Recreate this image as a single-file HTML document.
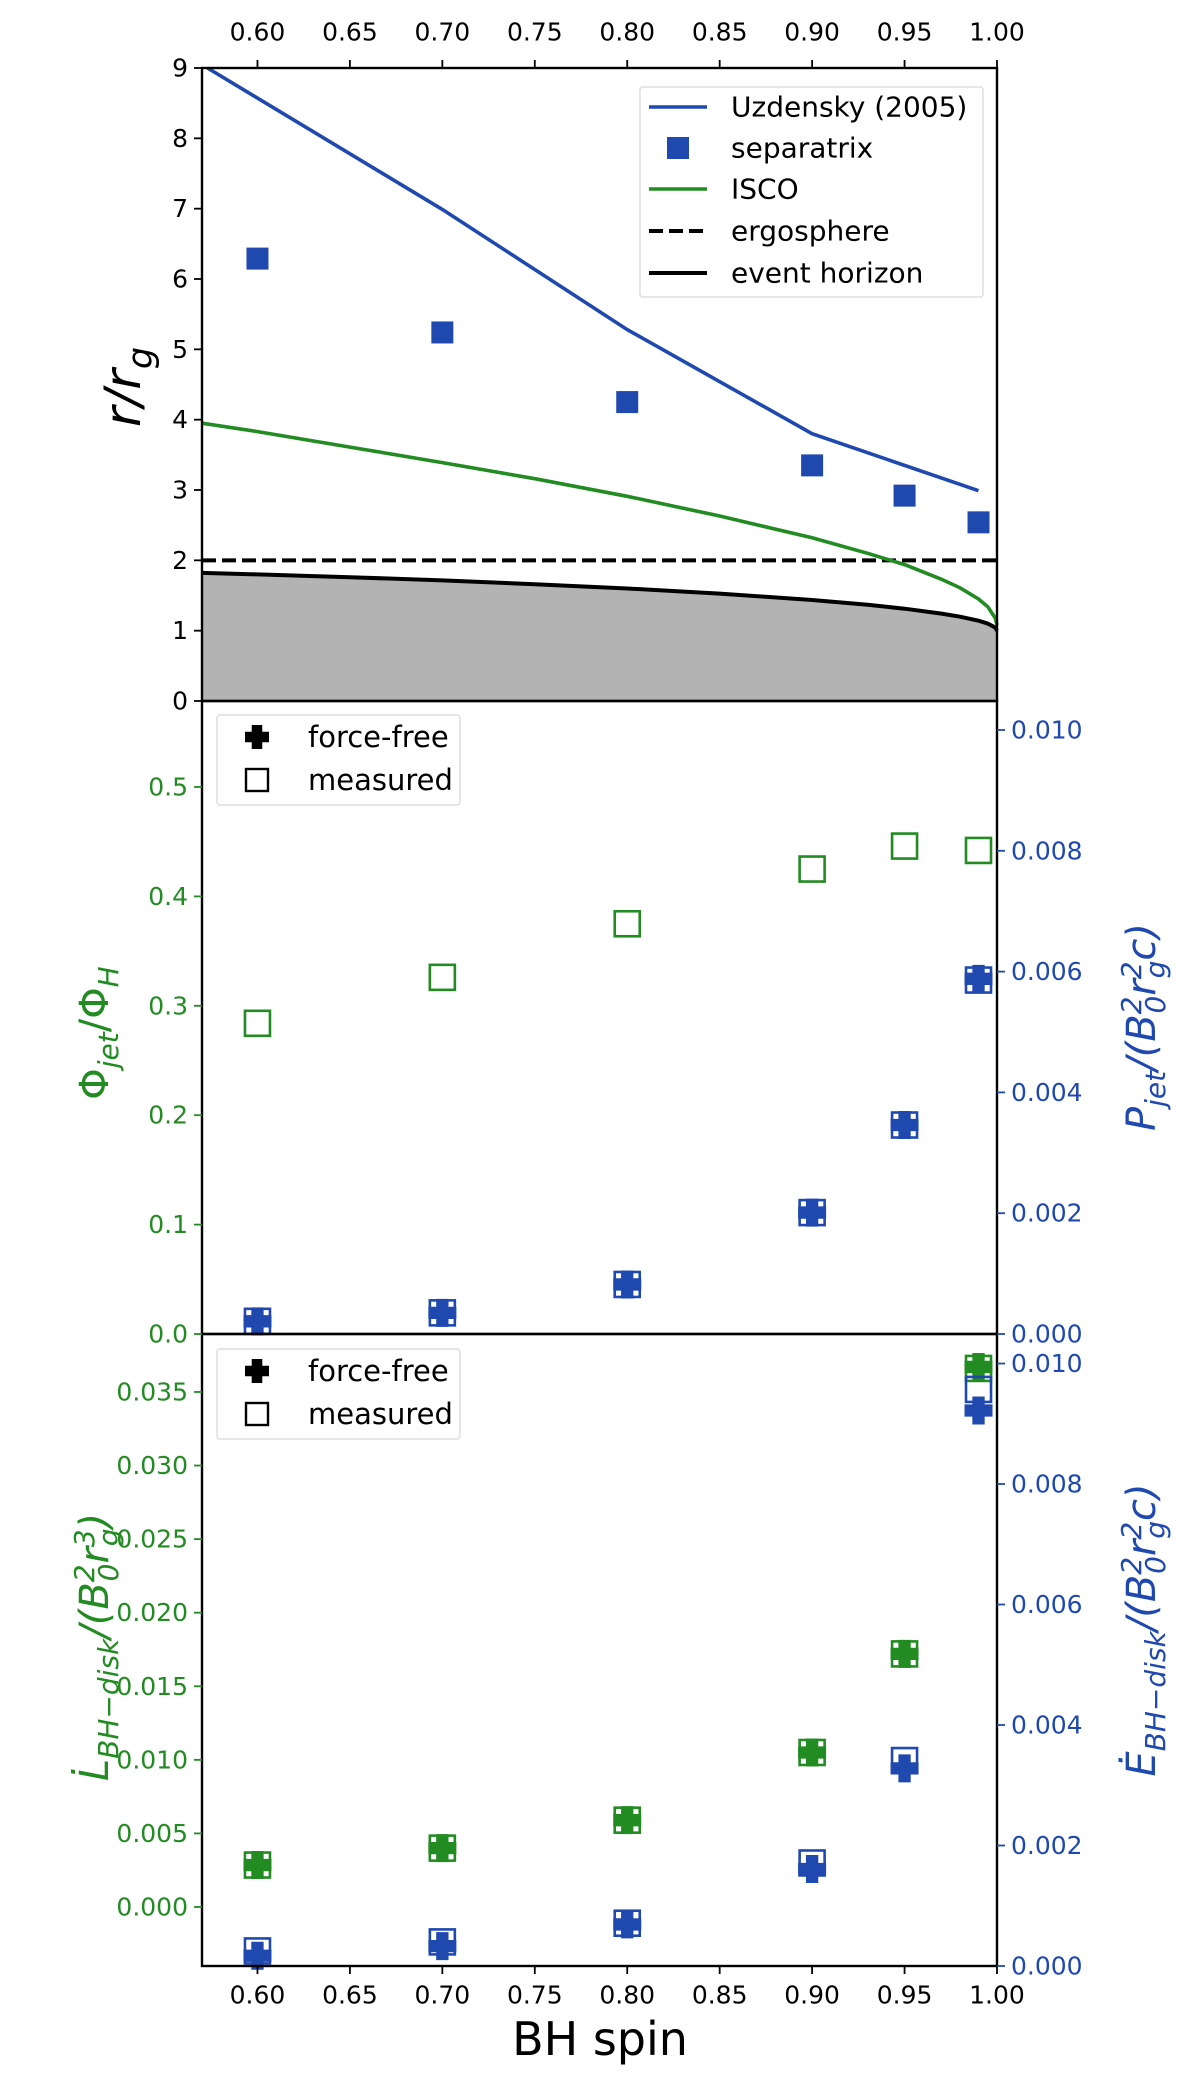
<!DOCTYPE html>
<html><head><meta charset="utf-8"><style>
html,body{margin:0;padding:0;background:#fff;}
svg{display:block;font-family:"DejaVu Sans","Liberation Sans",sans-serif;}
</style></head><body>
<svg id="c" width="1200" height="2090" viewBox="0 0 1200 2090" xmlns="http://www.w3.org/2000/svg"></svg>
<script>
// ---------- data ----------
const spins = [0.6, 0.7, 0.8, 0.9, 0.95, 0.99];
const xTicks = [0.60, 0.65, 0.70, 0.75, 0.80, 0.85, 0.90, 0.95, 1.00];
const xTickLabels = ["0.60","0.65","0.70","0.75","0.80","0.85","0.90","0.95","1.00"];
// panel 1
const separatrix = [6.29, 5.24, 4.25, 3.35, 2.92, 2.54];
const uzSpin = [0.573, 0.7, 0.8, 0.9, 0.99];
const uzR = [9.0, 6.99, 5.28, 3.8, 2.99];
const iscoSpin = [0.57, 0.6, 0.65, 0.7, 0.75, 0.8, 0.85, 0.9, 0.93, 0.95, 0.97, 0.98, 0.99, 0.995, 0.999, 1.0];
const iscoR = [3.95, 3.83, 3.61, 3.39, 3.16, 2.91, 2.63, 2.32, 2.10, 1.94, 1.73, 1.61, 1.45, 1.34, 1.18, 1.08];
const horizonSpin = [0.57, 0.6, 0.65, 0.7, 0.75, 0.8, 0.85, 0.9, 0.93, 0.95, 0.97, 0.98, 0.99, 0.995, 0.999, 1.0];
const horizonR = [1.822, 1.8, 1.76, 1.714, 1.661, 1.6, 1.527, 1.436, 1.368, 1.312, 1.243, 1.199, 1.141, 1.1, 1.045, 1.0];
const ergoR = 2;
const p1Ticks = [0,1,2,3,4,5,6,7,8,9];
// panel 2
const phiMeasured = [0.284, 0.326, 0.375, 0.425, 0.446, 0.442];
const pjetForceFree = [0.00021, 0.00035, 0.00082, 0.00201, 0.00346, 0.00588];
const pjetMeasured = [0.00021, 0.00035, 0.00082, 0.00201, 0.00346, 0.00586];
const p2LeftTicks = [0.0,0.1,0.2,0.3,0.4,0.5];
const p2LeftLabels = ["0.0","0.1","0.2","0.3","0.4","0.5"];
const p2RightTicks = [0,0.002,0.004,0.006,0.008,0.010];
const p2RightLabels = ["0.000","0.002","0.004","0.006","0.008","0.010"];
// panel 3
const lForceFree = [0.00285, 0.0040, 0.0059, 0.0105, 0.0172, 0.0367];
const lMeasured = [0.00285, 0.0040, 0.0059, 0.0105, 0.0172, 0.0366];
const eForceFree = [0.00017, 0.00033, 0.00069, 0.00161, 0.00328, 0.00922];
const eMeasured = [0.00025, 0.0004, 0.00071, 0.00171, 0.00341, 0.00957];
const p3LeftTicks = [0,0.005,0.010,0.015,0.020,0.025,0.030,0.035];
const p3LeftLabels = ["0.000","0.005","0.010","0.015","0.020","0.025","0.030","0.035"];
const p3RightTicks = [0,0.002,0.004,0.006,0.008,0.010];
const p3RightLabels = ["0.000","0.002","0.004","0.006","0.008","0.010"];

// ---------- layout ----------
const NS = "http://www.w3.org/2000/svg";
const svg = document.getElementById('c');
const BLUE = "#2049b0", GREEN = "#228b22";
const X0 = 202, X1 = 997, XMIN = 0.57, XMAX = 1.0;
const xs = v => X0 + (v - XMIN) / (XMAX - XMIN) * (X1 - X0);
const P1 = {top: 68, bot: 701, min: 0, max: 9};
const P2L = {top: 701, bot: 1334, min: 0, max: 0.5786};
const P2R = {top: 701, bot: 1334, min: 0, max: 0.01048};
const P3L = {top: 1334, bot: 1966, min: -0.00401, max: 0.03894};
const P3R = {top: 1334, bot: 1966, min: 0, max: 0.01049};
const ys = (ax, v) => ax.bot - (v - ax.min) / (ax.max - ax.min) * (ax.bot - ax.top);

function mk(tag, attrs, parent) {
  const e = document.createElementNS(NS, tag);
  for (const k in attrs) e.setAttribute(k, attrs[k]);
  (parent || svg).appendChild(e);
  return e;
}
function txt(s, x, y, size, fill, anchor, parent) {
  const t = mk('text', {x: x, y: y, 'font-size': size, fill: fill, 'text-anchor': anchor || 'middle', 'dominant-baseline': 'central'}, parent);
  t.textContent = s;
  return t;
}
function plusPath(cx, cy, s) {
  const h = s / 2, a = s * 0.22;
  return `M${cx-a},${cy-h}H${cx+a}V${cy-a}H${cx+h}V${cy+a}H${cx+a}V${cy+h}H${cx-a}V${cy+a}H${cx-h}V${cy-a}H${cx-a}Z`;
}
function polyline(xsArr, ysArr, ax) {
  return xsArr.map((v, i) => (i ? 'L' : 'M') + xs(v).toFixed(1) + ',' + ys(ax, ysArr[i]).toFixed(1)).join('');
}

// ---------- panel 1 ----------
const g1 = mk('g', {});


let d = polyline(horizonSpin, horizonR, P1) + `L${X1},${P1.bot}L${X0},${P1.bot}Z`;
const fill = mk('path', {d: d, fill: '#b3b3b3', stroke: 'none'}, g1);


const hor = mk('path', {d: polyline(horizonSpin, horizonR, P1), fill: 'none', stroke: '#000', 'stroke-width': 4}, g1);


const erg = mk('line', {x1: X0, x2: X1, y1: ys(P1, ergoR), y2: ys(P1, ergoR), stroke: '#000', 'stroke-width': 4, 'stroke-dasharray': '14,6'}, g1);


const isco = mk('path', {d: polyline(iscoSpin, iscoR, P1), fill: 'none', stroke: GREEN, 'stroke-width': 3.6}, g1);


const uz = mk('path', {d: polyline(uzSpin, uzR, P1), fill: 'none', stroke: BLUE, 'stroke-width': 3.6}, g1);


spins.forEach((s, i) => {
  const r = mk('rect', {x: xs(s) - 11, y: ys(P1, separatrix[i]) - 11, width: 22, height: 22, fill: BLUE}, g1);
  
  
});

// ---------- panel 2 ----------
function openSquare(cx, cy, color, parent, name) {
  const r = mk('rect', {x: cx - 12.5, y: cy - 12.5, width: 25, height: 25, fill: 'none', stroke: color, 'stroke-width': 2.6}, parent);
  
  
}
function plusMark(cx, cy, color, parent, name) {
  const p = mk('path', {d: plusPath(cx, cy, 28), fill: color}, parent);
  
  
}
const g2 = mk('g', {});


spins.forEach((s, i) => {
  openSquare(xs(s), ys(P2L, phiMeasured[i]), GREEN, g2, 'phi-jet-measured');
  plusMark(xs(s), ys(P2R, pjetForceFree[i]), BLUE, g2, 'pjet-force-free');
  openSquare(xs(s), ys(P2R, pjetMeasured[i]), BLUE, g2, 'pjet-measured');
});

// ---------- panel 3 ----------
const g3 = mk('g', {});


spins.forEach((s, i) => {
  plusMark(xs(s), ys(P3L, lForceFree[i]), GREEN, g3, 'ldot-force-free');
  openSquare(xs(s), ys(P3L, lMeasured[i]), GREEN, g3, 'ldot-measured');
  plusMark(xs(s), ys(P3R, eForceFree[i]), BLUE, g3, 'edot-force-free');
  openSquare(xs(s), ys(P3R, eMeasured[i]), BLUE, g3, 'edot-measured');
});

// ---------- frames & ticks ----------
[[68,701],[701,1334],[1334,1966]].forEach(([t,b], k) => {
  const f = mk('rect', {x: X0, y: t, width: X1 - X0, height: b - t, fill: 'none', stroke: '#000', 'stroke-width': 2.4});
  
  
});
xTicks.forEach((v, i) => {
  mk('line', {x1: xs(v), x2: xs(v), y1: 60, y2: 68, stroke: '#000', 'stroke-width': 1.8});
  const t = txt(xTickLabels[i], xs(v), 32, 25, '#000');
  
  
  mk('line', {x1: xs(v), x2: xs(v), y1: 1966, y2: 1974, stroke: '#000', 'stroke-width': 1.8});
  const b = txt(xTickLabels[i], xs(v), 1995, 25, '#000');
  
  
});
function leftTicks(ax, ticks, labels, color) {
  ticks.forEach((v, i) => {
    const y = ys(ax, v);
    mk('line', {x1: X0 - 8, x2: X0, y1: y, y2: y, stroke: color, 'stroke-width': 1.8});
    const t = txt(labels[i], X0 - 14, y, 25, color, 'end');
    
    
  });
}
function rightTicks(ax, ticks, labels, color) {
  ticks.forEach((v, i) => {
    const y = ys(ax, v);
    mk('line', {x1: X1, x2: X1 + 8, y1: y, y2: y, stroke: color, 'stroke-width': 1.8});
    const t = txt(labels[i], X1 + 14, y, 25, color, 'start');
    
    
  });
}
leftTicks(P1, p1Ticks, p1Ticks.map(String), '#000');
leftTicks(P2L, p2LeftTicks, p2LeftLabels, GREEN);
rightTicks(P2R, p2RightTicks, p2RightLabels, BLUE);
leftTicks(P3L, p3LeftTicks, p3LeftLabels, GREEN);
rightTicks(P3R, p3RightTicks, p3RightLabels, BLUE);

// ---------- legends ----------
const lg1 = mk('g', {});


mk('rect', {x: 640, y: 87, width: 343, height: 210, rx: 3, fill: '#fff', 'fill-opacity': 0.8, stroke: '#ddd', 'stroke-width': 1.5}, lg1);
mk('line', {x1: 649, x2: 707, y1: 107, y2: 107, stroke: BLUE, 'stroke-width': 3.6}, lg1);
mk('rect', {x: 667, y: 137, width: 22, height: 22, fill: BLUE}, lg1);
mk('line', {x1: 649, x2: 707, y1: 189, y2: 189, stroke: GREEN, 'stroke-width': 3.6}, lg1);
mk('line', {x1: 649, x2: 707, y1: 231, y2: 231, stroke: '#000', 'stroke-width': 4, 'stroke-dasharray': '14,6'}, lg1);
mk('line', {x1: 649, x2: 707, y1: 273, y2: 273, stroke: '#000', 'stroke-width': 4}, lg1);
[["Uzdensky (2005)",107],["separatrix",148],["ISCO",189],["ergosphere",231],["event horizon",273]].forEach(([s,y]) => {
  const t = txt(s, 731, y, 28, '#000', 'start', lg1);
  
  
});
function smallLegend(top, name) {
  const g = mk('g', {});
  
  
  mk('rect', {x: 217, y: top, width: 243, height: 90, rx: 3, fill: '#fff', 'fill-opacity': 0.8, stroke: '#ddd', 'stroke-width': 1.5}, g);
  mk('path', {d: plusPath(257, top + 22, 24), fill: '#000'}, g);
  mk('rect', {x: 246, y: top + 54, width: 22, height: 22, fill: 'none', stroke: '#000', 'stroke-width': 2.4}, g);
  const a = txt('force-free', 308, top + 22, 29, '#000', 'start', g);
  
  
  const b = txt('measured', 308, top + 65, 29, '#000', 'start', g);
  
  
}
smallLegend(715, 'legend-jet');
smallLegend(1349, 'legend-bh-disk');
</script>
<svg width="1200" height="2090" style="position:absolute;left:0;top:0" xmlns="http://www.w3.org/2000/svg">
  <g font-family="DejaVu Sans, Liberation Sans, sans-serif">
    <text transform="translate(140,387) rotate(-90)" text-anchor="middle" font-size="50" font-style="italic">r/r<tspan font-size="35" dy="12">g</tspan></text>
    <text transform="translate(108,1033) rotate(-90)" text-anchor="middle" font-size="40" fill="#228b22"><tspan>Φ</tspan><tspan font-style="italic" font-size="28" dy="10">jet</tspan><tspan dy="-10">/Φ</tspan><tspan font-style="italic" font-size="28" dy="10">H</tspan></text>
    <text transform="translate(1155,1027) rotate(-90)" text-anchor="middle" font-size="40" fill="#2049b0" font-style="italic">P<tspan font-size="28" dy="10">jet</tspan><tspan dy="-10">/(B</tspan><tspan font-size="28" dy="-14">2</tspan><tspan font-size="28" dx="-17" dy="24">0</tspan><tspan dy="-10">r</tspan><tspan font-size="28" dy="-14">2</tspan><tspan font-size="28" dx="-17" dy="24">g</tspan><tspan dy="-10">c)</tspan></text>
    <text transform="translate(108,1647) rotate(-90)" text-anchor="middle" font-size="40" fill="#228b22" font-style="italic">L̇<tspan font-size="28" dy="10">BH−disk</tspan><tspan dy="-10">/(B</tspan><tspan font-size="28" dy="-14">2</tspan><tspan font-size="28" dx="-17" dy="24">0</tspan><tspan dy="-10">r</tspan><tspan font-size="28" dy="-14">3</tspan><tspan font-size="28" dx="-17" dy="24">g</tspan><tspan dy="-10">)</tspan></text>
    <text transform="translate(1155,1630) rotate(-90)" text-anchor="middle" font-size="40" fill="#2049b0" font-style="italic">Ė<tspan font-size="28" dy="10">BH−disk</tspan><tspan dy="-10">/(B</tspan><tspan font-size="28" dy="-14">2</tspan><tspan font-size="28" dx="-17" dy="24">0</tspan><tspan dy="-10">r</tspan><tspan font-size="28" dy="-14">2</tspan><tspan font-size="28" dx="-17" dy="24">g</tspan><tspan dy="-10">c)</tspan></text>
    <text x="600" y="2055" text-anchor="middle" font-size="46">BH spin</text>
  </g>
</svg>
</body></html>
